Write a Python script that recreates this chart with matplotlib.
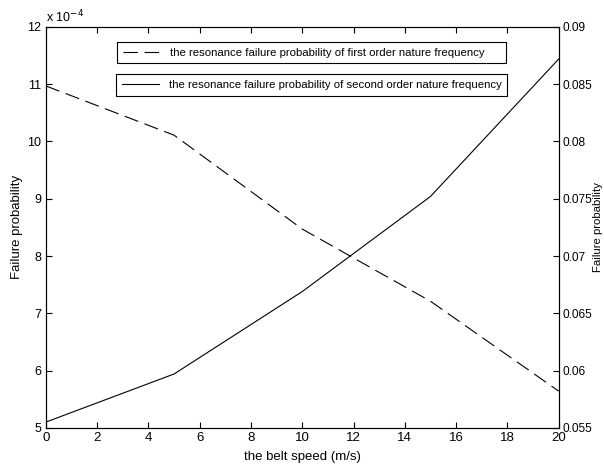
import matplotlib.pyplot as plt

plt.rcParams['font.family'] = ['Liberation Sans', 'DejaVu Sans']

# belt speed (m/s)
speed = [0, 5, 10, 15, 20]
# first order, left axis (x 1e-4)
first_order = [10.97, 10.11, 8.47, 7.21, 5.64]
# second order, right axis
second_order = [0.0555, 0.0597, 0.0669, 0.0752, 0.0872]

label1 = 'the resonance failure probability of first order nature frequency'
label2 = 'the resonance failure probability of second order nature frequency'

fig = plt.figure(figsize=(6.04, 4.65), dpi=100)
ax = fig.add_axes([0.076, 0.080, 0.849, 0.862])
ax2 = ax.twinx()

l1, = ax.plot(speed, first_order, color='black', lw=0.8, dashes=(13, 6))
l2, = ax2.plot(speed, second_order, color='black', lw=0.8)

ax.set_xlim(0, 20)
ax.set_ylim(5, 12)
ax2.set_ylim(0.055, 0.09)
ax.set_xticks(range(0, 21, 2))
ax.set_yticks(range(5, 13))
ax2.set_yticks([0.055, 0.06, 0.065, 0.07, 0.075, 0.08, 0.085, 0.09])
ax2.set_yticklabels(['0.055', '0.06', '0.065', '0.07', '0.075', '0.08', '0.085', '0.09'])

ax.tick_params(direction='in', length=4, labelsize=9, top=True)
ax.tick_params(axis='x', labelsize=9.5, pad=3)
ax2.tick_params(direction='in', length=4, labelsize=8.6, pad=2.5)
for a in (ax, ax2):
    for s in a.spines.values():
        s.set_linewidth(0.8)

ax.text(0.0, 1.005, r'x 10$^{-4}$', transform=ax.transAxes, fontsize=9,
        ha='left', va='bottom')

ax.set_xlabel('the belt speed (m/s)', fontsize=9.5, labelpad=5)
ax.set_ylabel('Failure probability', fontsize=9.5, labelpad=3)
ax2.set_ylabel('Failure probability', fontsize=8.2)
ax2.yaxis.set_label_coords(1.066, 0.5)

leg1 = ax.legend([l1], [label1], loc='center', mode='expand',
                 bbox_to_anchor=(0.128, 0.936, 0.781, 0),
                 fontsize=8.2, frameon=True, fancybox=False, edgecolor='black',
                 handlelength=3.3, borderpad=0.5, framealpha=1)
leg1.get_frame().set_linewidth(0.8)
ax.add_artist(leg1)
leg2 = ax.legend([l2], [label2], loc='center', mode='expand',
                 bbox_to_anchor=(0.126, 0.855, 0.784, 0),
                 fontsize=8.2, frameon=True, fancybox=False, edgecolor='black',
                 handlelength=3.3, borderpad=0.5, framealpha=1)
leg2.get_frame().set_linewidth(0.8)

fig.savefig('out.png', dpi=100)
